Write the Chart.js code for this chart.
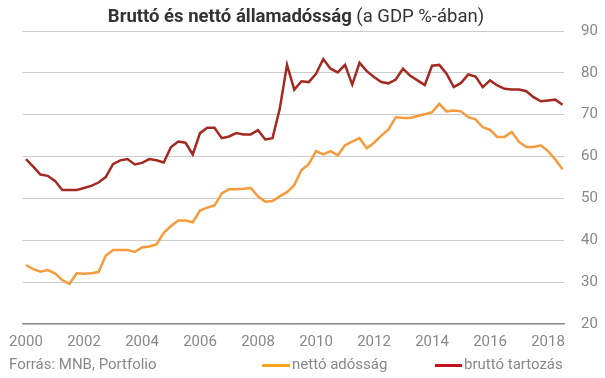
<!DOCTYPE html>
<html>
<head>
<meta charset="utf-8">
<script src="https://cdn.jsdelivr.net/npm/chart.js@4.4.1/dist/chart.umd.min.js"></script>
<style>
  html, body { margin: 0; padding: 0; background: #fff; }
  #wrap { position: relative; width: 605px; height: 378px; }
  #title { position: absolute; top: 5px; left: 0; width: 592px; text-align: center;
           font-family: Roboto, "Liberation Sans", sans-serif; font-size: 18.5px; color: #333; white-space: nowrap; }
  #title b { font-weight: 700; }
  .note { position: absolute; top: 355px; font-family: Roboto, "Liberation Sans", sans-serif;
          font-size: 15px; color: #888; white-space: nowrap; line-height: 18px; }
  .swatch { position: absolute; top: 9px; height: 3px; }
  canvas { position: absolute; left: 0; top: 0; }
</style>
</head>
<body>
<div id="wrap">
  <canvas id="c" width="605" height="378"></canvas>
  <div id="title"><b>Bruttó és nettó államadósság</b> (a GDP %-ában)</div>
  <div class="note" style="left:9px">Forrás: MNB, Portfolio</div>
  <div id="legend"></div>
</div>
<script>
// Quarterly categories (2000 Q1 – 2018 Q3)
const quarters = [
  '2000Q1','2000Q2','2000Q3','2000Q4','2001Q1','2001Q2','2001Q3','2001Q4',
  '2002Q1','2002Q2','2002Q3','2002Q4','2003Q1','2003Q2','2003Q3','2003Q4',
  '2004Q1','2004Q2','2004Q3','2004Q4','2005Q1','2005Q2','2005Q3','2005Q4',
  '2006Q1','2006Q2','2006Q3','2006Q4','2007Q1','2007Q2','2007Q3','2007Q4',
  '2008Q1','2008Q2','2008Q3','2008Q4','2009Q1','2009Q2','2009Q3','2009Q4',
  '2010Q1','2010Q2','2010Q3','2010Q4','2011Q1','2011Q2','2011Q3','2011Q4',
  '2012Q1','2012Q2','2012Q3','2012Q4','2013Q1','2013Q2','2013Q3','2013Q4',
  '2014Q1','2014Q2','2014Q3','2014Q4','2015Q1','2015Q2','2015Q3','2015Q4',
  '2016Q1','2016Q2','2016Q3','2016Q4','2017Q1','2017Q2','2017Q3','2017Q4',
  '2018Q1','2018Q2','2018Q3'
];

// nettó adósság (% of GDP)
const netDebt = [
  34.1, 33.1, 32.5, 32.9, 32.1, 30.5, 29.6, 32.1,
  32.0, 32.1, 32.4, 36.3, 37.7, 37.7, 37.7, 37.2,
  38.3, 38.5, 39.0, 41.8, 43.4, 44.7, 44.7, 44.3,
  47.1, 47.8, 48.3, 51.2, 52.2, 52.2, 52.3, 52.5,
  50.5, 49.2, 49.4, 50.5, 51.5, 53.2, 56.8, 58.2,
  61.3, 60.5, 61.3, 60.3, 62.7, 63.6, 64.4, 62.0,
  63.3, 65.0, 66.5, 69.4, 69.2, 69.2, 69.7, 70.1,
  70.6, 72.6, 70.8, 71.0, 70.8, 69.4, 68.9, 67.0,
  66.4, 64.7, 64.7, 65.9, 63.5, 62.3, 62.3, 62.7,
  61.3, 59.3, 57.0
];

// bruttó tartozás (% of GDP)
const grossDebt = [
  59.4, 57.6, 55.7, 55.4, 54.2, 52.0, 52.0, 52.0,
  52.5, 53.0, 53.8, 55.1, 58.2, 59.1, 59.4, 58.1,
  58.5, 59.4, 59.1, 58.6, 62.3, 63.6, 63.3, 60.5,
  65.6, 66.9, 66.9, 64.4, 64.8, 65.6, 65.3, 65.3,
  66.3, 64.1, 64.4, 71.4, 81.9, 76.0, 78.0, 77.8,
  79.8, 83.3, 81.0, 80.1, 81.9, 77.2, 82.4, 80.4,
  79.0, 77.8, 77.5, 78.4, 81.0, 79.3, 78.2, 77.1,
  81.7, 81.9, 79.8, 76.6, 77.6, 79.6, 79.1, 76.6,
  78.2, 77.0, 76.2, 76.0, 76.0, 75.6, 74.2, 73.2,
  73.4, 73.6, 72.4
];

const xTickYears = [2000, 2002, 2004, 2006, 2008, 2010, 2012, 2014, 2016, 2018];
const yTicks = [20, 30, 40, 50, 60, 70, 80, 90];
const seriesNames = ['nettó adósság', 'bruttó tartozás'];

const qx = q => parseInt(q.slice(0, 4), 10) + (parseInt(q.slice(5), 10) - 1) / 4;
const toPoints = arr => arr.map((v, i) => ({ x: qx(quarters[i]), y: v }));

const FONT = 'Roboto, "Liberation Sans", sans-serif';
const lineColors = ['#f59b3c', '#a32a20'];
const legendColors = ['#f5a51a', '#c2121c'];

// HTML legend built from the series names
const legendPos = [{ sw: 262, tx: 292, w: 28 }, { sw: 435, tx: 464, w: 27 }];
const legendEl = document.getElementById('legend');
seriesNames.forEach((name, i) => {
  const p = legendPos[i];
  const sw = document.createElement('div');
  sw.className = 'note';
  sw.style.left = p.sw + 'px';
  sw.style.width = p.w + 'px';
  sw.style.height = '18px';
  sw.innerHTML = '<div class="swatch" style="left:0;width:' + p.w + 'px;background:' + legendColors[i] + '"></div>';
  legendEl.appendChild(sw);
  const tx = document.createElement('div');
  tx.className = 'note';
  tx.style.left = p.tx + 'px';
  tx.textContent = name;
  legendEl.appendChild(tx);
});

new Chart(document.getElementById('c'), {
  type: 'line',
  data: {
    datasets: [
      { label: seriesNames[0], data: toPoints(netDebt), borderColor: lineColors[0], backgroundColor: lineColors[0],
        borderWidth: 2.5, pointRadius: 0, tension: 0, order: 2 },
      { label: seriesNames[1], data: toPoints(grossDebt), borderColor: lineColors[1], backgroundColor: lineColors[1],
        borderWidth: 2.5, pointRadius: 0, tension: 0, order: 1 }
    ]
  },
  options: {
    responsive: false,
    animation: false,
    layout: { padding: { left: 20, right: 7, top: 31, bottom: 27 } },
    plugins: {
      tooltip: { enabled: false },
      title: { display: false },
      legend: { display: false }
    },
    scales: {
      x: {
        type: 'linear',
        min: 1999.887,
        max: 2018.55,
        afterBuildTicks: axis => { axis.ticks = xTickYears.map(v => ({ value: v })); },
        afterFit: axis => { axis.height = 27; },
        grid: { display: false, drawTicks: false },
        border: { display: true, color: '#8a8a8a', width: 1.2 },
        ticks: { color: '#888', font: { family: FONT, size: 15 }, padding: 9, maxRotation: 0,
                 callback: v => String(v) }
      },
      y: {
        position: 'right',
        min: 20,
        max: 90,
        afterBuildTicks: axis => { axis.ticks = yTicks.map(v => ({ value: v })); },
        afterFit: axis => { axis.width = 34; },
        grid: { color: '#cccccc', lineWidth: 1, drawTicks: false },
        border: { display: false },
        ticks: { color: '#888', font: { family: FONT, size: 15 }, padding: 17 }
      }
    }
  }
});
</script>
</body>
</html>
